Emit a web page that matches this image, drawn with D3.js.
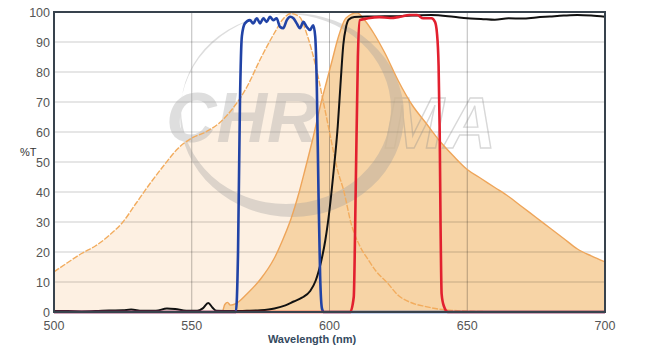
<!DOCTYPE html>
<html>
<head>
<meta charset="utf-8">
<script src="https://cdn.jsdelivr.net/npm/d3@7"></script>
<style>
  body { margin: 0; background: #fff; }
  svg { display: block; font-family: Arial, "Liberation Sans", sans-serif; }
</style>
</head>
<body>
<svg id="chart" width="652" height="354"></svg>
<script>
// spectra, [wavelength nm, %T]
let excitation_pts = [[500,13.4],[505,16.5],[510,19.5],[515,22],[520,25.5],[525,30],[530,36.5],[535,43],
  [540,49],[545,54.5],[550,58],[555,60],[560,63],[565,68],[570,75],[575,84.5],[580,93],[583,97.5],
  [586,99.5],[589,98.5],[592,92],[595,82],[598,69],[600,60],[603,47],[605,41],[608,29],[611,22],
  [614,17.5],[617,13.5],[621,9.7],[625,5.5],[630,3],[635,1.8],[640,0.9],[645,0.5],[650,0.3],[660,0.1],[700,0]];

let emission_pts = [[500,0],[561,0],[562,2.5],[563,3.2],[564,2.3],[566,2.8],[570,6],[575,11],[580,18],
  [583,24],[586,31],[589,40],[591,47],[594,58],[597,70],[599,77],[601,84],[603,91],[606,98],[610,99.7],
  [613,97],[616,93],[620,86.5],[625,77],[630,69],[635,63],[640,57],[645,52],[650,47.5],[655,44.5],
  [660,41.5],[665,38.5],[670,35],[675,31.5],[680,28],[685,24.5],[690,21],[695,18.7],[700,16.7]];

let dichroic_pts = [[500,0.3],[505,0.3],[510,0.2],[515,0.3],[520,0.5],[525,0.6],[528,0.8],[532,0.4],
  [537,0.4],[541,1.2],[544,1.0],[548,0.4],[552,0.4],[554,1.2],[556,3.0],[557.5,1.5],[559,0.4],[565,0.3],
  [570,0.4],[575,0.6],[580,1.2],[584,2.2],[587,3.5],[590,4.8],[593,7],[595,10.5],[597,17],[598.5,24],
  [600,34],[601.5,47],[603,62],[604,76],[605,89],[606,95],[607,97.5],[609,98.3],[615,98.5],[620,98.6],
  [625,98.6],[630,98.8],[637,99],[645,98.4],[650,97.9],[655,97.7],[660,97.4],[665,97.9],[670,97.8],
  [675,98.2],[680,98.5],[685,98.8],[690,99],[695,98.8],[700,98.4]];

let exciter_pts = [[500,0],[566,0],[566.8,20],[567.5,70],[568.2,92],[569.3,96.2],[571.1,97.3],[572.3,96.2],
  [573.6,97.9],[574.8,96.2],[576,97.9],[577.2,96.7],[578.4,98.4],[579.6,97.3],[580.8,97.9],[582,95.1],
  [583.2,94.6],[584.5,97.3],[585.7,98.4],[586.9,97.9],[588.1,96.2],[589.3,94.6],[590.5,96.7],[591.7,95.1],
  [592.9,94],[594.1,95.6],[594.8,92],[595.4,75],[596,40],[596.6,12],[597.3,1],[598,0],[700,0]];

let emitter_pts = [[500,0],[607.5,0],[608.8,5],[609.5,40],[610.3,85],[611,97.3],[614,97.9],[618,98.3],
  [622,98],[625.6,98.4],[629,99],[631.8,99],[634,97.9],[637,97.9],[638.3,96.7],[639,93],[639.6,82],
  [640,60],[640.3,30],[640.7,6],[641.5,2],[643,0],[700,0]];

let x_ticks = [500, 550, 600, 650, 700];
let x_grid = [550, 600, 650];
let y_ticks = [0, 10, 20, 30, 40, 50, 60, 70, 80, 90, 100];

let margin = {left: 54, right: 47, top: 12, bottom: 42};
let width = 652, height = 354;

let x = d3.scaleLinear().domain([500, 700]).range([margin.left, width - margin.right]);
let y = d3.scaleLinear().domain([0, 100]).range([height - margin.bottom, margin.top]);

let svg = d3.select('#chart');

let line = d3.line()
  .x(d => x(d[0]))
  .y(d => y(d[1]))
  .curve(d3.curveMonotoneX);

let area = d3.area()
  .x(d => x(d[0]))
  .y0(y(0))
  .y1(d => y(d[1]))
  .curve(d3.curveMonotoneX);

// fills
svg.append('path').attr('d', area(excitation_pts)).attr('fill', '#fdf0e2');
svg.append('path').attr('d', area(emission_pts)).attr('fill', '#f7d4a6');

// grid
svg.append('g')
  .selectAll('line')
  .data(y_ticks.slice(1, -1))
  .enter().append('line')
  .attr('x1', x(500)).attr('x2', x(700))
  .attr('y1', d => y(d)).attr('y2', d => y(d))
  .attr('stroke', 'rgba(0,0,0,0.2)')
  .attr('stroke-width', 1);

svg.append('g')
  .selectAll('line')
  .data(x_grid)
  .enter().append('line')
  .attr('x1', d => x(d)).attr('x2', d => x(d))
  .attr('y1', y(0)).attr('y2', y(100))
  .attr('stroke', 'rgba(0,0,0,0.27)')
  .attr('stroke-width', 1);

// watermark
let wm = svg.append('g').attr('opacity', 0.33);
wm.append('path')
  .attr('d', 'M180,115 a112,102 0 1,0 224,0 a112,102 0 1,0 -224,0 Z ' +
             'M181,109 a105,95 0 1,0 210,0 a105,95 0 1,0 -210,0 Z')
  .attr('fill', '#9a9a9a')
  .attr('fill-rule', 'evenodd');
wm.append('text')
  .attr('x', 166).attr('y', 142)
  .style('font-size', '70px').style('font-weight', 'bold').style('font-style', 'italic')
  .attr('fill', '#9e9e9e')
  .text('CHR');
wm.append('text')
  .attr('x', 384).attr('y', 148)
  .style('font-size', '72px').style('font-weight', 'bold').style('font-style', 'italic')
  .attr('fill', 'none')
  .attr('stroke', '#8a8a8a')
  .attr('stroke-width', 1.4)
  .text('MA');

// orange spectrum outlines
svg.append('path').attr('d', line(excitation_pts))
  .attr('fill', 'none').attr('stroke', '#f2ac5e').attr('stroke-width', 1.4)
  .attr('stroke-dasharray', '6,1.5');
svg.append('path').attr('d', line(emission_pts))
  .attr('fill', 'none').attr('stroke', '#eea55a').attr('stroke-width', 1.4);

// filters
svg.append('path').attr('d', line(dichroic_pts))
  .attr('fill', 'none').attr('stroke', '#111').attr('stroke-width', 2);
svg.append('path').attr('d', line(exciter_pts))
  .attr('fill', 'none').attr('stroke', '#2143a6').attr('stroke-width', 2.6);
svg.append('path').attr('d', line(emitter_pts))
  .attr('fill', 'none').attr('stroke', '#e2202f').attr('stroke-width', 2.6);

// frame
svg.append('rect')
  .attr('x', x(500)).attr('y', y(100))
  .attr('width', x(700) - x(500)).attr('height', y(0) - y(100))
  .attr('fill', 'none')
  .attr('stroke', '#38434d')
  .attr('stroke-width', 2);

// tick labels
svg.append('g')
  .selectAll('text')
  .data(y_ticks)
  .enter().append('text')
  .attr('x', margin.left - 4)
  .attr('y', d => y(d))
  .attr('dy', '0.36em')
  .style('text-anchor', 'end')
  .style('font-size', '12.5px')
  .style('fill', '#555')
  .text(d => d);

svg.append('g')
  .selectAll('text')
  .data(x_ticks)
  .enter().append('text')
  .attr('x', d => x(d))
  .attr('y', y(0) + 18)
  .style('text-anchor', 'middle')
  .style('font-size', '12.5px')
  .style('fill', '#555')
  .text(d => d);

svg.append('text')
  .attr('x', 20).attr('y', 156)
  .style('font-size', '11px')
  .style('fill', '#333')
  .text('%T');

svg.append('text')
  .attr('x', 312).attr('y', 343)
  .style('text-anchor', 'middle')
  .style('font-size', '11px')
  .style('font-weight', 'bold')
  .style('fill', '#34495e')
  .text('Wavelength (nm)');
</script>
</body>
</html>
